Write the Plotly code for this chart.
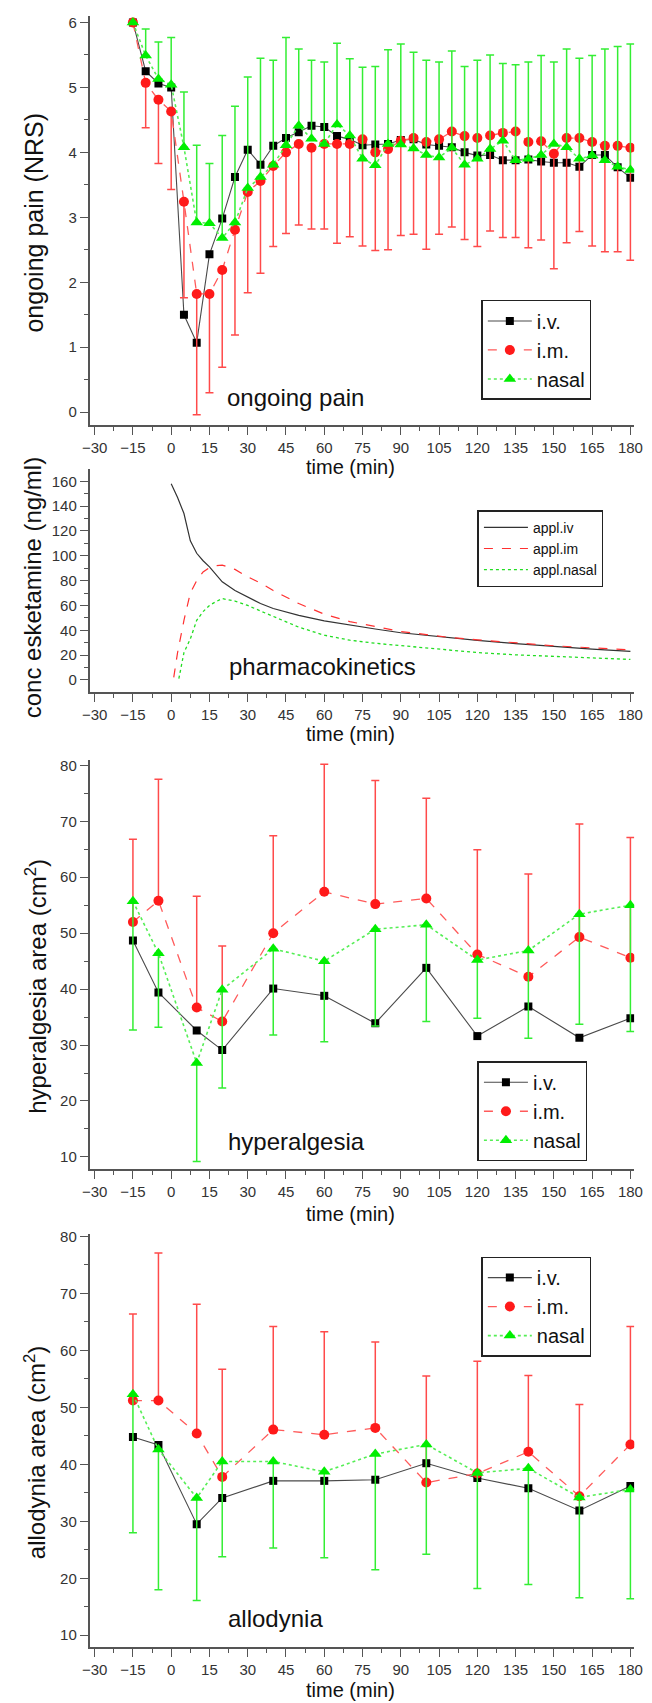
import numpy as np
import plotly.graph_objects as go

W, H = 652, 1703
FONT = "Liberation Sans, Arial, sans-serif"

# ---------------- data ----------------
# Panel 1: ongoing pain (NRS), every 5 min from -15 to 180
t_pain = list(range(-15, 181, 5))
pain_iv = [6.0, 5.25, 5.06, 5.0, 1.50, 1.07, 2.43, 2.98, 3.62, 4.04, 3.81, 4.10, 4.22, 4.31, 4.41, 4.39,
           4.25, 4.20, 4.11, 4.12, 4.13, 4.19, 4.20, 4.12, 4.10, 4.08, 4.00, 3.95, 3.96, 3.88, 3.88, 3.89,
           3.86, 3.84, 3.84, 3.78, 3.96, 3.96, 3.77, 3.61]
pain_im = [6.0, 5.07, 4.81, 4.63, 3.24, 1.82, 1.82, 2.19, 2.81, 3.39, 3.56, 3.79, 4.00, 4.13, 4.07, 4.13,
           4.13, 4.13, 4.20, 4.00, 4.05, 4.18, 4.22, 4.16, 4.20, 4.32, 4.25, 4.22, 4.26, 4.30, 4.32, 4.16,
           4.17, 3.98, 4.22, 4.22, 4.16, 4.10, 4.10, 4.07]
pain_nasal = [6.0, 5.49, 5.13, 5.04, 4.08, 2.92, 2.91, 2.68, 2.92, 3.45, 3.62, 3.81, 4.11, 4.41, 4.21, 4.13,
              4.43, 4.26, 3.90, 3.80, 4.13, 4.12, 4.06, 3.96, 3.92, 4.07, 3.81, 3.90, 4.05, 4.18, 3.88, 3.90,
              3.96, 4.13, 4.08, 3.90, 3.95, 3.88, 3.78, 3.73]
# lower end of i.m. error bars, upper end of nasal error bars
pain_im_low = [6.0, 4.38, 3.83, 3.43, 1.76, -0.04, 0.30, 0.69, 1.19, 1.84, 2.14, 2.55, 2.75, 2.88, 2.82, 2.82,
               2.60, 2.70, 2.56, 2.49, 2.50, 2.72, 2.74, 2.51, 2.74, 2.85, 2.66, 2.55, 2.79, 2.69, 2.69, 2.53,
               2.65, 2.21, 2.61, 2.78, 2.56, 2.47, 2.47, 2.34]
pain_nasal_high = [6.0, 5.90, 5.70, 5.77, 4.93, 4.11, 3.83, 4.26, 4.71, 5.16, 5.45, 5.42, 5.77, 5.59, 5.42, 5.39,
                   5.68, 5.44, 5.31, 5.32, 5.58, 5.67, 5.54, 5.42, 5.39, 5.56, 5.32, 5.42, 5.50, 5.37, 5.35, 5.39,
                   5.49, 5.39, 5.59, 5.45, 5.49, 5.59, 5.63, 5.67]

# Panel 2: pharmacokinetics (ng/ml)
pk_iv_t = [0, 2.5, 5, 7.5, 10, 12.5, 15, 20, 25, 30, 35, 40, 45, 50, 60, 70, 80, 90, 100, 110, 120, 135, 150, 165, 180]
pk_iv = [158, 147, 134, 112, 102, 96, 91, 79, 72, 66.5, 61.5, 57.5, 54.5, 52, 47.5, 44, 41, 38, 35.8, 33.8, 31.8,
         29.2, 26.8, 24.8, 23]
pk_im_t = [1, 2.5, 5, 7.5, 10, 12.5, 15, 17.5, 20, 25, 30, 35, 40, 45, 50, 60, 70, 80, 90, 100, 110, 120, 135, 150,
           165, 180]
pk_im = [2, 22, 48, 70, 80, 87, 90.5, 92, 92.5, 89, 83, 78, 72, 66.5, 61.5, 53, 47, 43, 39, 36.5, 34, 32.3, 29.8,
         27.5, 25.8, 24.2]
pk_nasal_t = [3, 5, 7.5, 10, 12.5, 15, 17.5, 20, 25, 30, 35, 40, 45, 50, 60, 70, 80, 90, 105, 120, 135, 150, 165, 180]
pk_nasal = [1, 22, 33, 48, 55, 60, 63, 65.5, 63.5, 60, 55.5, 51, 47, 42.5, 36, 32, 29.5, 27.5, 24.5, 22, 20.2, 19,
            17.5, 16.5]

# Panels 3 & 4: area (cm2)
t_area = [-15, -5, 10, 20, 40, 60, 80, 100, 120, 140, 160, 180]
hyp_iv = [48.7, 39.4, 32.6, 29.1, 40.1, 38.8, 33.9, 43.8, 31.6, 36.9, 31.3, 34.8]
hyp_im = [52.0, 55.8, 36.7, 34.2, 50.0, 57.4, 55.2, 56.2, 46.2, 42.2, 49.3, 45.6]
hyp_nasal = [55.7, 46.4, 26.8, 39.9, 47.2, 45.0, 50.7, 51.5, 45.2, 46.9, 53.4, 55.0]
hyp_im_high = [66.8, 77.5, 56.6, 47.7, 67.4, 80.2, 77.3, 74.1, 64.9, 60.6, 69.5, 67.1]
hyp_nasal_low = [32.7, 33.2, 9.2, 22.3, 31.8, 30.6, 33.4, 34.2, 34.8, 31.2, 33.7, 32.4]

allo_iv = [44.8, 43.4, 29.5, 34.1, 37.1, 37.1, 37.3, 40.2, 37.6, 35.8, 31.9, 36.2]
allo_im = [51.2, 51.2, 45.4, 37.8, 46.1, 45.2, 46.4, 36.8, 38.4, 42.2, 34.4, 43.5]
allo_nasal = [52.3, 42.6, 34.1, 40.5, 40.5, 38.7, 41.8, 43.5, 38.5, 39.3, 34.2, 35.6]
allo_im_high = [66.4, 77.1, 68.1, 56.7, 64.2, 63.3, 61.5, 55.5, 58.1, 55.6, 50.5, 64.2]
allo_nasal_low = [28.0, 18.0, 16.1, 23.8, 25.3, 23.6, 21.5, 24.2, 18.2, 18.9, 16.6, 16.4]

x_ticks = list(range(-30, 181, 15))

# ---------------- styles ----------------
BLACK_LINE = "#4a4a4a"
RED = "#ff1a1a"
RED_LINE = "#ff5a5a"
RED_ERR = "#ff4a4a"
GREEN = "#00ee00"
GREEN_LINE = "#55ee55"
GREEN_ERR = "#33ee33"
AXIS = "#555555"


def px_x(p):
    return p / W


def px_y(p):
    return 1 - p / H


fig = go.Figure()


def series(idx, x, y, name, kind, err_plus=None, err_minus=None, legend="legend"):
    xa = "x" if idx == 1 else f"x{idx}"
    ya = "y" if idx == 1 else f"y{idx}"
    if kind == "iv":
        line = dict(color=BLACK_LINE, width=1.1)
        marker = dict(symbol="square", size=8, color="#000000")
    elif kind == "im":
        line = dict(color=RED_LINE, width=1.3, dash="dash")
        marker = dict(symbol="circle", size=10, color=RED)
    else:
        line = dict(color=GREEN_LINE, width=1.6, dash="dot")
        marker = dict(symbol="triangle-up", size=11, color=GREEN)
    err = None
    if err_plus is not None or err_minus is not None:
        n = len(y)
        ep = np.zeros(n) if err_plus is None else np.asarray(err_plus)
        em = np.zeros(n) if err_minus is None else np.asarray(err_minus)
        err = dict(type="data", symmetric=False, array=ep, arrayminus=em,
                   color=RED_ERR if kind == "im" else GREEN_ERR, thickness=1.5, width=4)
    fig.add_trace(go.Scatter(x=x, y=y, name=name, mode="lines+markers", line=line, marker=marker,
                             error_y=err, xaxis=xa, yaxis=ya, legend=legend))


# Panel 1
series(1, t_pain, pain_iv, "i.v.", "iv", legend="legend")
series(1, t_pain, pain_im, "i.m.", "im",
       err_minus=np.array(pain_im) - np.array(pain_im_low), legend="legend")
series(1, t_pain, pain_nasal, "nasal", "nasal",
       err_plus=np.array(pain_nasal_high) - np.array(pain_nasal), legend="legend")

# Panel 2
fig.add_trace(go.Scatter(x=pk_iv_t, y=pk_iv, name="appl.iv", mode="lines",
                         line=dict(color="#333333", width=1.2), xaxis="x2", yaxis="y2", legend="legend2"))
fig.add_trace(go.Scatter(x=pk_im_t, y=pk_im, name="appl.im", mode="lines",
                         line=dict(color="#ff3030", width=1.2, dash="dash"), xaxis="x2", yaxis="y2",
                         legend="legend2"))
fig.add_trace(go.Scatter(x=pk_nasal_t, y=pk_nasal, name="appl.nasal", mode="lines",
                         line=dict(color="#22dd22", width=1.3, dash="dot"), xaxis="x2", yaxis="y2",
                         legend="legend2"))

# Panel 3
series(3, t_area, hyp_iv, "i.v.", "iv", legend="legend3")
series(3, t_area, hyp_im, "i.m.", "im",
       err_plus=np.array(hyp_im_high) - np.array(hyp_im), legend="legend3")
series(3, t_area, hyp_nasal, "nasal", "nasal",
       err_minus=np.array(hyp_nasal) - np.array(hyp_nasal_low), legend="legend3")

# Panel 4
series(4, t_area, allo_iv, "i.v.", "iv", legend="legend4")
series(4, t_area, allo_im, "i.m.", "im",
       err_plus=np.array(allo_im_high) - np.array(allo_im), legend="legend4")
series(4, t_area, allo_nasal, "nasal", "nasal",
       err_minus=np.array(allo_nasal) - np.array(allo_nasal_low), legend="legend4")

# ---------------- axes ----------------
x_dom = [px_x(84), px_x(643)]
panels = {
    1: dict(top=10, bottom=420, yrange=[-0.19, 6.10], dtick=1, tick0=0, minor=0.5),
    2: dict(top=465, bottom=688, yrange=[-9.4, 169.6], dtick=20, tick0=0, minor=10),
    3: dict(top=757, bottom=1167, yrange=[7.86, 80.9], dtick=10, tick0=10, minor=5),
    4: dict(top=1232, bottom=1647, yrange=[7.9, 80.5], dtick=10, tick0=10, minor=5),
}

layout = dict(
    width=W, height=H, margin=dict(l=0, r=0, t=0, b=0),
    paper_bgcolor="white", plot_bgcolor="white",
    font=dict(family=FONT, color="#222222"),
)
tickfont = dict(family=FONT, size=15, color="#333333")
for i, p in panels.items():
    xs = "xaxis" if i == 1 else f"xaxis{i}"
    ys = "yaxis" if i == 1 else f"yaxis{i}"
    ya = "y" if i == 1 else f"y{i}"
    xa = "x" if i == 1 else f"x{i}"
    layout[xs] = dict(domain=x_dom, anchor=ya, range=[-31.9, 181.5], tickmode="array", tickvals=x_ticks,
                      showgrid=False, zeroline=False, showline=True, linecolor=AXIS, linewidth=2,
                      ticks="outside", ticklen=8, tickwidth=1.3, tickcolor=AXIS, tickfont=tickfont,
                      minor=dict(ticks="outside", ticklen=4, tickwidth=1.3, tickcolor=AXIS, dtick=7.5,
                                 tick0=-30, showgrid=False))
    layout[ys] = dict(domain=[px_y(p["bottom"]), px_y(p["top"])], anchor=xa, range=p["yrange"],
                      dtick=p["dtick"], tick0=p["tick0"], showgrid=False, zeroline=False, showline=True,
                      linecolor=AXIS, linewidth=2, ticks="outside", ticklen=8, tickwidth=1.3, tickcolor=AXIS,
                      tickfont=tickfont,
                      minor=dict(ticks="outside", ticklen=4, tickwidth=1.3, tickcolor=AXIS,
                                 dtick=p["minor"], showgrid=False))

# legends
leg_common = dict(bgcolor="white", bordercolor="#222222", borderwidth=1.5, xanchor="left", yanchor="top",
                  tracegroupgap=0, itemwidth=44)
layout["legend"] = dict(x=px_x(486), y=px_y(295), font=dict(family=FONT, size=20, color="#111"), **leg_common)
layout["legend2"] = dict(x=px_x(482), y=px_y(506),
                         font=dict(family="Liberation Sans Narrow, Liberation Sans, Arial", size=14, color="#111"),
                         **leg_common)
layout["legend3"] = dict(x=px_x(482), y=px_y(1059), font=dict(family=FONT, size=20, color="#111"), **leg_common)
layout["legend4"] = dict(x=px_x(486), y=px_y(1255), font=dict(family=FONT, size=20, color="#111"), **leg_common)

fig.update_layout(**layout)

# ---------------- text ----------------
def ann(text, x, y, size, angle=0, xanchor="center"):
    fig.add_annotation(text=text, x=px_x(x), y=px_y(y), xref="paper", yref="paper", showarrow=False,
                       textangle=angle, xanchor=xanchor, yanchor="middle",
                       font=dict(family=FONT, size=size, color="#111111"))


ann("ongoing pain (NRS)", 27, 217, 25, angle=-90)
ann("conc esketamine (ng/ml)", 26, 584, 24, angle=-90)
ann("hyperalgesia area (cm<sup>2</sup>)", 28, 984, 24, angle=-90)
ann("allodynia area (cm<sup>2</sup>)", 28, 1452, 24, angle=-90)

for yy in (463, 731, 1212, 1690):
    ann("time (min)", 352, yy, 20)

ann("ongoing pain", 223, 393, 24, xanchor="left")
ann("pharmacokinetics", 225, 663, 24, xanchor="left")
ann("hyperalgesia", 224, 1140, 24, xanchor="left")
ann("allodynia", 224, 1618, 24, xanchor="left")

fig.write_html(
    "out.html",
    config={"displayModeBar": False},
    post_script="document.body.style.margin='0px';document.body.style.padding='0px';"
                "document.documentElement.style.overflow='hidden';",
)
